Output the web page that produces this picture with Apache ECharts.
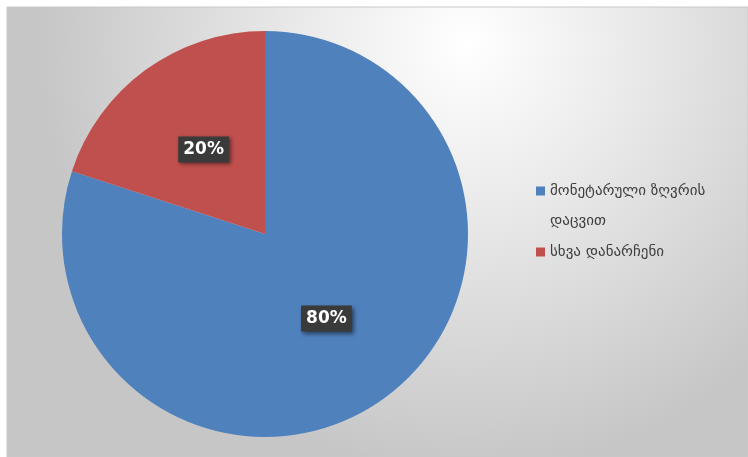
<!DOCTYPE html>
<html>
<head>
<meta charset="utf-8">
<script src="https://cdn.jsdelivr.net/npm/echarts@6/dist/echarts.min.js"></script>
<style>
  html, body { margin: 0; padding: 0; background: #ffffff; }
  #chart { width: 748px; height: 457px; }
</style>
</head>
<body>
<div id="chart"></div>
<script>
// Share of the two groups, in percent
const categories = ['მონეტარული ზღვრის დაცვით', 'სხვა დანარჩენი'];
const shares = [80, 20];
const colors = ['#4f81bd', '#c0504d'];

const LEGEND_FONT = '15px "DejaVu Sans"';
const LEGEND_MAX_WIDTH = 170;

// Word-wrap a legend name into lines no wider than LEGEND_MAX_WIDTH.
const measureCtx = document.createElement('canvas').getContext('2d');
measureCtx.font = LEGEND_FONT;
function wrapLines(text) {
  const words = text.split(' ');
  const lines = [];
  let cur = '';
  words.forEach(w => {
    const next = cur ? cur + ' ' + w : w;
    if (cur && measureCtx.measureText(next).width > LEGEND_MAX_WIDTH) {
      lines.push(cur);
      cur = w;
    } else {
      cur = next;
    }
  });
  if (cur) lines.push(cur);
  return lines;
}
// The legend marker sits at the vertical middle of the text block, so
// pad the top with blank lines to keep the marker beside the first line.
function legendText(name) {
  const lines = wrapLines(name);
  const pad = new Array(lines.length - 1).fill('');
  return pad.concat(lines).join('\n');
}

const chart = echarts.init(document.getElementById('chart'), null, { renderer: 'canvas' });

chart.setOption({
  animation: false,
  color: colors,
  graphic: [
    {
      type: 'rect',
      z: -10,
      shape: { x: 7, y: 7, width: 741, height: 450 },
      style: {
        fill: {
          type: 'radial', x: 0.62, y: 0.08, r: 0.95,
          colorStops: [
            { offset: 0, color: '#ffffff' },
            { offset: 0.35, color: '#ececec' },
            { offset: 1, color: '#c6c6c6' }
          ]
        },
        stroke: '#c8c8c8',
        lineWidth: 1
      }
    }
  ],
  legend: {
    orient: 'vertical',
    left: 531,
    top: 141,
    itemWidth: 9,
    itemHeight: 9,
    itemGap: 1,
    icon: 'rect',
    formatter: legendText,
    textStyle: {
      fontFamily: 'DejaVu Sans',
      fontSize: 15,
      color: '#404040',
      lineHeight: 30
    }
  },
  series: [
    {
      type: 'pie',
      center: [265, 234],
      radius: [0, 203],
      startAngle: 90,
      clockwise: true,
      label: {
        show: true,
        position: 'inside',
        formatter: '{c}%',
        color: '#ffffff',
        fontFamily: 'DejaVu Sans',
        fontWeight: 'bold',
        fontSize: 17,
        backgroundColor: '#3a3a3a',
        padding: [5, 5, 4, 5],
        shadowColor: 'rgba(0,0,0,0.5)',
        shadowBlur: 4,
        shadowOffsetX: 2,
        shadowOffsetY: 2
      },
      labelLine: { show: false },
      itemStyle: { borderWidth: 0 },
      emphasis: { disabled: true },
      data: categories.map((name, i) => ({ name, value: shares[i] }))
    }
  ]
});
</script>
</body>
</html>
